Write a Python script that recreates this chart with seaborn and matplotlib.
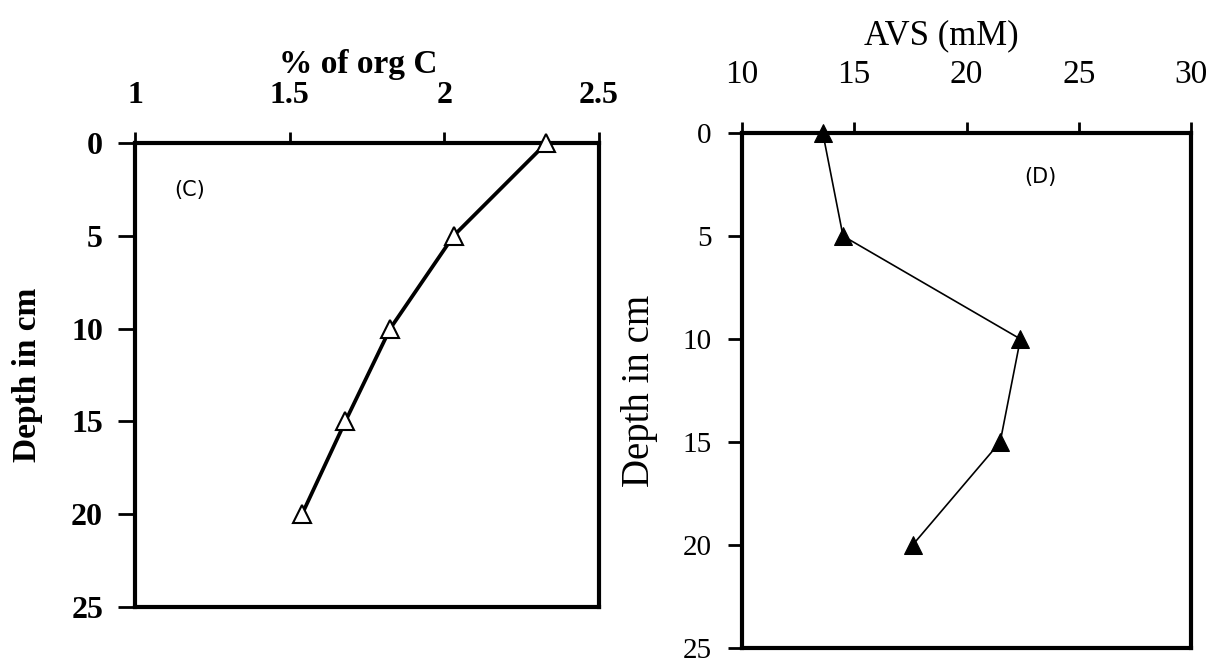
import pandas as pd
import matplotlib
matplotlib.use("Agg")
import matplotlib.pyplot as plt
import seaborn as sns

depth = [0, 5, 10, 15, 20]
org_c = [2.33, 2.03, 1.825, 1.68, 1.54]
avs = [13.6, 14.5, 22.4, 21.5, 17.6]

sns.set_style("ticks", {'axes.edgecolor': 'black', 'text.color': 'black',
                        'axes.labelcolor': 'black', 'xtick.color': 'black',
                        'ytick.color': 'black'})
plt.rcParams['font.family'] = ['Liberation Serif', 'DejaVu Serif']

stats = pd.DataFrame({'depth': depth, 'orgC': org_c, 'AVS': avs})

fig = plt.figure(figsize=(12.14, 6.63), dpi=100)

# panel C
ax1 = fig.add_axes([135/1214, 1-607/663, 464/1214, 464/663])
sns.lineplot(x='orgC', y='depth', data=stats, sort=False, estimator=None,
             color='black', linewidth=2.7, marker='^', markersize=13,
             markerfacecolor='white', markeredgecolor='black',
             markeredgewidth=1.5, ax=ax1, clip_on=False, zorder=5)
ax1.set_xlim(1, 2.5)
ax1.set_ylim(25, 0)
ax1.set_xticks([1, 1.5, 2, 2.5])
ax1.set_xticklabels(['1', '1.5', '2', '2.5'])
ax1.set_yticks([0, 5, 10, 15, 20, 25])
ax1.xaxis.tick_top()
ax1.xaxis.set_label_position('top')
ax1.tick_params(axis='x', direction='out', length=8, width=2, pad=16, labelsize=23)
ax1.tick_params(axis='y', direction='out', length=12, width=2, pad=11, labelsize=23)
for lab in ax1.get_xticklabels() + ax1.get_yticklabels():
    lab.set_fontweight('bold')
for s in ax1.spines.values():
    s.set_linewidth(3)
ax1.set_xlabel('% of org C', fontsize=24, fontweight='bold')
ax1.xaxis.set_label_coords((358-135)/464, 1 + (143-73)/464)
ax1.set_ylabel('Depth in cm', fontsize=24, fontweight='bold')
ax1.yaxis.set_label_coords(-(135-43)/464, 0.5)
ax1.text(190, 663-190, '(C)', transform=None, fontsize=15, family='DejaVu Sans',
         ha='center', va='center')

# panel D
ax2 = fig.add_axes([742/1214, 1-648/663, 449/1214, 515/663])
sns.lineplot(x='AVS', y='depth', data=stats, sort=False, estimator=None,
             color='black', linewidth=1.2, marker='^', markersize=13,
             markerfacecolor='black', markeredgecolor='black',
             ax=ax2, clip_on=False, zorder=5)
ax2.set_xlim(10, 30)
ax2.set_ylim(25, 0)
ax2.set_xticks([10, 15, 20, 25, 30])
ax2.set_yticks([0, 5, 10, 15, 20, 25])
ax2.xaxis.tick_top()
ax2.xaxis.set_label_position('top')
ax2.tick_params(axis='x', direction='out', length=8, width=2, pad=23, labelsize=24)
ax2.tick_params(axis='y', direction='out', length=10, width=2, pad=12, labelsize=21)
for s in ax2.spines.values():
    s.set_linewidth(3)
ax2.set_xlabel('AVS (mM)', fontsize=25)
ax2.xaxis.set_label_coords((941-742)/449, 1 + (133-44)/515)
ax2.set_ylabel('Depth in cm', fontsize=28)
ax2.yaxis.set_label_coords(-(742-658)/449, 0.5)
ax2.text(1040, 663-177, '(D)', transform=None, fontsize=15, family='DejaVu Sans',
         ha='center', va='center')

fig.savefig('out.png', dpi=100)
